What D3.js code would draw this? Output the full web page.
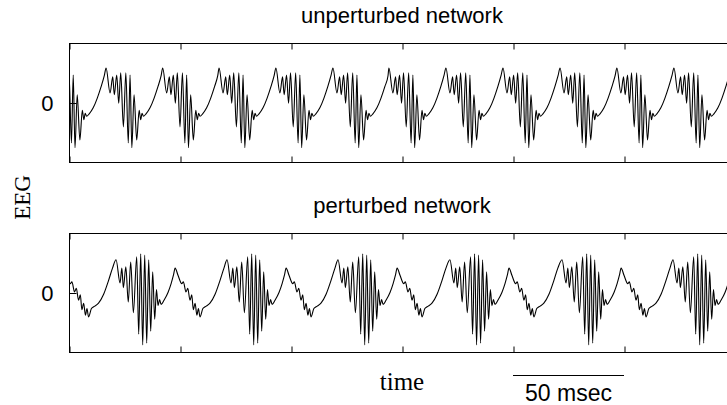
<!DOCTYPE html>
<html>
<head>
<meta charset="utf-8">
<script src="https://cdn.jsdelivr.net/npm/d3@7"></script>
<style>
  html, body { margin: 0; padding: 0; background: #fff; }
  svg { display: block; }
</style>
</head>
<body>
<svg id="chart" width="727" height="405"></svg>
<script>
// ---------------- DATA ----------------
// time axis (msec) and its ticks
const timeDomain = [0, 300];
const timeTicks = [0, 50, 100, 150, 200, 250, 300];
const yTicks = [0];
const scaleBarMs = [200, 250];   // "50 msec" bar

// unperturbed network: times of each cycle peak (msec)
const topPeakTimes = [-8.9, 16.7, 42.2, 67.6, 93.2, 118.9, 144.1, 169.8, 195.5, 221.2, 246.8, 272.5, 298.1];
// one cycle: offset after the peak (msec) and EEG value
const topCycleOffsets = [0, 1.8, 3.0, 3.7, 4.8, 5.7, 6.6, 7.8, 8.9, 10.0, 10.8, 11.6, 12.6, 13.8, 14.9, 15.6, 16.2, 16.8, 18.0, 19.8, 21.6, 23.4, 24.8];
const topCycleValues  = [0.58, 0.16, 0.43, 0.13, 0.46, -0.01, 0.50, -0.41, 0.50, -0.68, 0.46, -0.76, 0.13, -0.63, -0.13, -0.29, -0.18, -0.23, -0.19, -0.09, 0.07, 0.27, 0.45];

// perturbed network: times of each big-burst peak (msec); each pair = big burst + small wave
const bottomPairTimes = [-29.0, 21.2, 71.2, 121.2, 171.6, 222.1, 272.1, 322.3];
const bottomPairOffsets = [0, 1.8, 2.6, 3.3, 4.4, 5.5, 6.6, 7.8, 9.3, 10.2, 11.1, 12.0, 12.9, 13.8, 14.7, 15.6, 16.5, 17.4, 18.2, 18.9, 19.6, 20.3, 21.6, 23.4, 24.8, 25.9,
  26.6, 27.9, 29.6, 30.3, 31.5, 32.3, 33.3, 34.1, 34.8, 35.6, 36.4, 37.1, 37.8, 39.1, 40.1, 42.3, 44.6, 46.8, 48.6];
const bottomPairValues  = [0.55, 0.16, 0.41, 0.08, 0.43, -0.16, 0.51, -0.34, 0.60, -0.70, 0.65, -0.88, 0.63, -0.85, 0.55, -0.65, 0.35, -0.45, 0.05, -0.22, -0.12, -0.20, -0.13, 0.00, 0.15, 0.30,
  0.41, 0.29, 0.15, 0.18, 0.01, 0.07, -0.13, -0.04, -0.29, -0.18, -0.38, -0.27, -0.41, -0.27, -0.24, -0.18, -0.03, 0.20, 0.41];

// ---------------- BUILD ----------------
function expand(starts, offsets, values) {
  const pts = [];
  starts.forEach(s => offsets.forEach((o, i) => pts.push([s + o, values[i]])));
  return pts;
}
const topSeries = expand(topPeakTimes, topCycleOffsets, topCycleValues);
const bottomSeries = expand(bottomPairTimes, bottomPairOffsets, bottomPairValues);

const svg = d3.select("#chart");
const left = 69, right = 735;
const x = d3.scaleLinear().domain(timeDomain).range([left, right]);

const sans = "'Liberation Sans', Arial, Helvetica, sans-serif";
const serif = "'Liberation Serif', 'Times New Roman', Times, serif";

const panels = [
  { title: "unperturbed network", top: 43, bottom: 162, data: topSeries, id: "c1" },
  { title: "perturbed network",   top: 233, bottom: 352, data: bottomSeries, id: "c2" }
];

panels.forEach(p => {
  const y = d3.scaleLinear().domain([-1, 1]).range([p.bottom, p.top]);
  const g = svg.append("g");

  g.append("clipPath").attr("id", p.id)
    .append("rect").attr("x", left).attr("y", p.top).attr("width", right - left).attr("height", p.bottom - p.top);

  const line = d3.line().x(d => x(d[0])).y(d => y(d[1])).curve(d3.curveMonotoneX);
  g.append("path").datum(p.data)
    .attr("clip-path", `url(#${p.id})`)
    .attr("fill", "none").attr("stroke", "#000").attr("stroke-width", 1.1)
    .attr("stroke-linejoin", "round")
    .attr("d", line);

  // frame
  g.append("rect").attr("x", left + 0.5).attr("y", p.top + 0.5)
    .attr("width", right - left).attr("height", p.bottom - p.top)
    .attr("fill", "none").attr("stroke", "#000").attr("stroke-width", 1);

  // ticks
  const axB = d3.axisBottom(x).tickValues(timeTicks).tickSize(-6).tickSizeOuter(0).tickFormat("");
  const axT = d3.axisTop(x).tickValues(timeTicks).tickSize(-6).tickSizeOuter(0).tickFormat("");
  const gb = g.append("g").attr("transform", `translate(0.5,${p.bottom + 0.5})`).call(axB);
  const gt = g.append("g").attr("transform", `translate(0.5,${p.top + 0.5})`).call(axT);
  const axL = d3.axisLeft(y).tickValues(yTicks).tickSize(-7).tickSizeOuter(0).tickPadding(16).tickFormat(d3.format("d"));
  const gl = g.append("g").attr("transform", `translate(${left + 0.5},0.5)`).call(axL);
  [gb, gt, gl].forEach(a => { a.select(".domain").remove(); a.selectAll("line").attr("stroke", "#000"); });
  gl.selectAll("text").attr("font-family", sans).attr("font-size", 22).attr("fill", "#000");

  // title
  svg.append("text").attr("x", (left + right) / 2).attr("y", p.top - 20)
    .attr("text-anchor", "middle").attr("font-family", sans).attr("font-size", 22)
    .text(p.title);
});

// y label
svg.append("text").attr("transform", "translate(30,197.5) rotate(-90)")
  .attr("text-anchor", "middle").attr("font-family", serif).attr("font-size", 23)
  .text("EEG");

// x label
svg.append("text").attr("x", (left + right) / 2).attr("y", 390)
  .attr("text-anchor", "middle").attr("font-family", serif).attr("font-size", 25)
  .text("time");

// scale bar
svg.append("line").attr("x1", x(scaleBarMs[0])).attr("x2", x(scaleBarMs[1]))
  .attr("y1", 375.5).attr("y2", 375.5).attr("stroke", "#000").attr("stroke-width", 1);
svg.append("text").attr("x", (x(scaleBarMs[0]) + x(scaleBarMs[1])) / 2).attr("y", 401)
  .attr("text-anchor", "middle").attr("font-family", sans).attr("font-size", 23)
  .text((scaleBarMs[1] - scaleBarMs[0]) + " msec");
</script>
</body>
</html>
